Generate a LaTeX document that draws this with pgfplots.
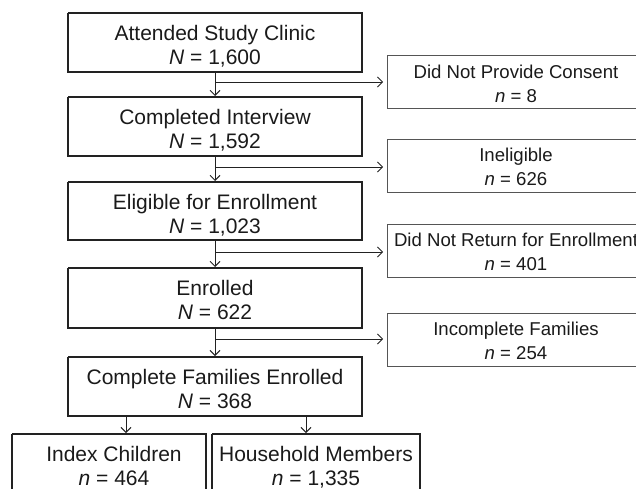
\documentclass[border=0pt]{standalone}
\usepackage{pgfplots}
\pgfplotsset{compat=1.18}
\usepackage{fontspec}
\setmainfont{Liberation Sans}
\usetikzlibrary{arrows.meta}
\definecolor{mainline}{HTML}{222222}
\definecolor{sideline}{HTML}{555555}
\definecolor{txt}{HTML}{1A1A1A}
\begin{document}
\begin{tikzpicture}
\begin{axis}[
  width=636bp, height=489bp, scale only axis,
  xmin=0, xmax=636, ymin=0, ymax=489, y dir=reverse,
  hide axis, clip=true,
]
% main boxes
\addplot[mainline, line width=1.6bp] coordinates {(68,13) (362,13) (362,72) (68,72) (68,13)};
\addplot[mainline, line width=1.6bp] coordinates {(68,97) (362,97) (362,156) (68,156) (68,97)};
\addplot[mainline, line width=1.6bp] coordinates {(68,182) (362,182) (362,240) (68,240) (68,182)};
\addplot[mainline, line width=1.6bp] coordinates {(68,268) (362,268) (362,328) (68,328) (68,268)};
\addplot[mainline, line width=1.6bp] coordinates {(68,357) (362,357) (362,416) (68,416) (68,357)};
\addplot[mainline, line width=1.6bp] coordinates {(12,434) (206,434) (206,520) (12,520) (12,434)};
\addplot[mainline, line width=1.6bp] coordinates {(212,434) (420,434) (420,520) (212,520) (212,434)};
% side boxes
\addplot[sideline, line width=1bp] coordinates {(387,56) (660,56) (660,109) (387,109) (387,56)};
\addplot[sideline, line width=1bp] coordinates {(387,139) (660,139) (660,192) (387,192) (387,139)};
\addplot[sideline, line width=1bp] coordinates {(387,224) (660,224) (660,277) (387,277) (387,224)};
\addplot[sideline, line width=1bp] coordinates {(387,313) (660,313) (660,366) (387,366) (387,313)};
% vertical arrows
\addplot[mainline, line width=1bp, -{Straight Barb[length=5bp,width=10bp]}] coordinates {(215,72) (215,96)};
\addplot[mainline, line width=1bp, -{Straight Barb[length=5bp,width=10bp]}] coordinates {(215,156) (215,181)};
\addplot[mainline, line width=1bp, -{Straight Barb[length=5bp,width=10bp]}] coordinates {(215,240) (215,267)};
\addplot[mainline, line width=1bp, -{Straight Barb[length=5bp,width=10bp]}] coordinates {(215,328) (215,356)};
\addplot[mainline, line width=1bp, -{Straight Barb[length=5bp,width=10bp]}] coordinates {(126,416) (126,433)};
\addplot[mainline, line width=1bp, -{Straight Barb[length=5bp,width=10bp]}] coordinates {(306,416) (306,433)};
% horizontal arrows
\addplot[mainline, line width=0.8bp, -{Straight Barb[length=5bp,width=10bp]}] coordinates {(215,82) (383,82)};
\addplot[mainline, line width=0.8bp, -{Straight Barb[length=5bp,width=10bp]}] coordinates {(215,167) (383,167)};
\addplot[mainline, line width=0.8bp, -{Straight Barb[length=5bp,width=10bp]}] coordinates {(215,252) (383,252)};
\addplot[mainline, line width=0.8bp, -{Straight Barb[length=5bp,width=10bp]}] coordinates {(215,339) (383,339)};
% texts main
\tikzset{mt/.style={text=txt, font=\fontsize{21bp}{24bp}\selectfont, anchor=base, inner sep=0pt},
         st/.style={text=txt, font=\fontsize{18.6bp}{24bp}\selectfont, anchor=base, inner sep=0pt}}
\node[mt] at (axis cs:215,40.5) {Attended Study Clinic};
\node[mt] at (axis cs:215,64.5) {\textit{N} = 1,600};
\node[mt] at (axis cs:215,124.5) {Completed Interview};
\node[mt] at (axis cs:215,148.5) {\textit{N} = 1,592};
\node[mt] at (axis cs:215,209.5) {Eligible for Enrollment};
\node[mt] at (axis cs:215,233.5) {\textit{N} = 1,023};
\node[mt] at (axis cs:215,295.5) {Enrolled};
\node[mt] at (axis cs:215,319.5) {\textit{N} = 622};
\node[mt] at (axis cs:215,384.5) {Complete Families Enrolled};
\node[mt] at (axis cs:215,408.5) {\textit{N} = 368};
\node[mt] at (axis cs:114,461.5) {Index Children};
\node[mt] at (axis cs:114,485.5) {\textit{n} = 464};
\node[mt] at (axis cs:316,461.5) {Household Members};
\node[mt] at (axis cs:316,485.5) {\textit{n} = 1,335};
% side texts
\node[st] at (axis cs:516,78.5) {Did Not Provide Consent};
\node[st] at (axis cs:516,102.5) {\textit{n} = 8};
\node[st] at (axis cs:516,161.5) {Ineligible};
\node[st] at (axis cs:516,185.5) {\textit{n} = 626};
\node[st] at (axis cs:516,246.5) {Did Not Return for Enrollment};
\node[st] at (axis cs:516,270.5) {\textit{n} = 401};
\node[st] at (axis cs:516,335.5) {Incomplete Families};
\node[st] at (axis cs:516,359.5) {\textit{n} = 254};
\end{axis}
\pgfresetboundingbox
\useasboundingbox (0,0) rectangle (636bp,489bp);
\end{tikzpicture}
\end{document}
